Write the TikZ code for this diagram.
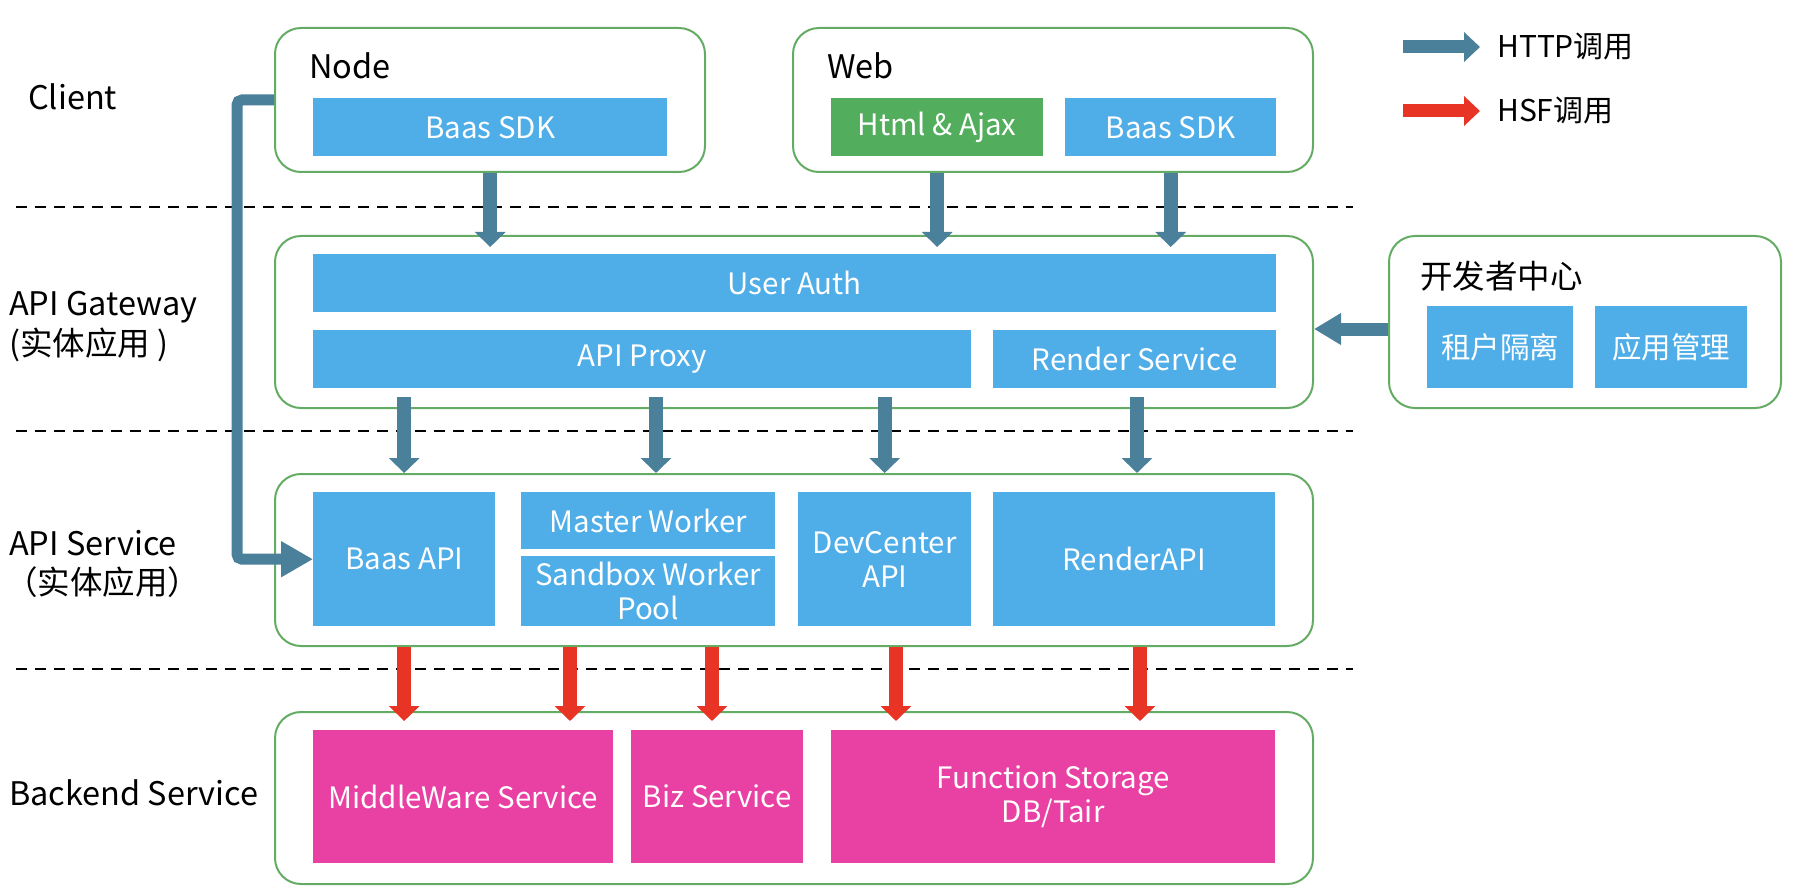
\documentclass[tikz,border=0pt]{standalone}
\usepackage{fontspec}
\setmainfont{Noto Sans CJK SC}
\usetikzlibrary{arrows.meta,calc}
\definecolor{boxblue}{RGB}{79,173,232}
\definecolor{htmlgreen}{RGB}{82,174,92}
\definecolor{biz}{RGB}{233,64,163}
\definecolor{arrowblue}{RGB}{74,128,153}
\definecolor{hsfred}{RGB}{232,52,36}
\definecolor{frame}{RGB}{100,172,100}
\newcommand{\bx}[7]{\node[#2, minimum width={(#5-#3)*1pt}, minimum height={(#6-#4)*1pt}, anchor=north west, inner sep=0pt] (#1) at (#3,#4) {#7};}
\begin{document}
\begin{tikzpicture}[x=1pt,y=-1pt,
  txt/.style={font=\fontsize{29.5}{34}\selectfont, align=center},
  lbl/.style={font=\fontsize{32.5}{38}\selectfont, anchor=west, inner sep=0pt, align=left},
  legl/.style={font=\fontsize{30}{36}\selectfont, anchor=west, inner sep=0pt},
  grp/.style={draw=frame, line width=2pt, rounded corners=26pt, fill=white},
  bluebox/.style={txt, fill=boxblue, text=white},
  greenbox/.style={txt, fill=htmlgreen, text=white},
  pinkbox/.style={txt, fill=biz, text=white},
  httparrow/.style={draw=arrowblue, line width=14pt, -{Triangle[width=30pt,length=15pt]}},
  hsfarrow/.style={draw=hsfred, line width=14pt, -{Triangle[width=30pt,length=15pt]}},
  sepline/.style={draw=black, line width=1.8pt, dash pattern=on 11pt off 8pt},
]
\useasboundingbox (0,0) rectangle (1794,896);
% separators
\draw[sepline] (16,207) -- (1353,207);
\draw[sepline] (16,431) -- (1353,431);
\draw[sepline] (16,669) -- (1353,669);
% group boxes
\bx{nodebox}{grp}{274}{27}{704}{171}{}
\bx{webbox}{grp}{792}{27}{1312}{171}{}
\bx{gwbox}{grp}{274}{235}{1312}{407}{}
\bx{devbox}{grp}{1388}{235}{1780}{407}{}
\bx{svcbox}{grp}{274}{473}{1312}{645}{}
\bx{bkbox}{grp}{274}{711}{1312}{883}{}
% inner boxes
\bx{bsdk1}{bluebox}{313}{98}{667}{156}{Baas SDK}
\bx{html}{greenbox}{831}{98}{1043}{156}{Html \& Ajax}
\bx{bsdk2}{bluebox}{1065}{98}{1276}{156}{Baas SDK}
\bx{auth}{bluebox}{313}{254}{1276}{312}{User Auth}
\bx{proxy}{bluebox}{313}{330}{971}{388}{API Proxy}
\bx{render}{bluebox}{993}{330}{1276}{388}{Render Service}
\bx{tenant}{bluebox}{1427}{306}{1573}{388}{租户隔离}
\bx{appmgmt}{bluebox}{1595}{306}{1747}{388}{应用管理}
\bx{baasapi}{bluebox}{313}{492}{495}{626}{Baas API}
\bx{master}{bluebox}{521}{492}{775}{549}{Master Worker}
\bx{sandbox}{bluebox}{521}{556}{775}{626}{Sandbox Worker\\Pool}
\bx{devapi}{bluebox}{798}{492}{971}{626}{DevCenter\\API}
\bx{renderapi}{bluebox}{993}{492}{1275}{626}{RenderAPI}
\bx{mw}{pinkbox}{313}{730}{613}{863}{MiddleWare Service}
\bx{bizsvc}{pinkbox}{631}{730}{803}{863}{Biz Service}
\bx{fs}{pinkbox}{831}{730}{1275}{863}{Function Storage\\DB/Tair}
% group titles
\node[lbl] (nodet) at (309,66) {Node};
\node[lbl] (webt) at (827,66) {Web};
\node[lbl] (devt) at (1420,276) {开发者中心};
% layer labels
\node[lbl] (l1) at (28,97) {Client};
\node[lbl] (l2) at (9,307) {API Gateway};
\node[lbl] (l2b) at (9,345) {(实体应用 )};
\node[lbl] (l3) at (9,543) {API Service};
\node[lbl] (l3b) at (5,582) {（实体应用）};
\node[lbl] (l4) at (9,793) {Backend Service};
% legend
\node[legl] (httpl) at (1497,47) {HTTP调用};
\node[legl] (hsfl) at (1497,111) {HSF调用};
\coordinate (https) at (1403,47);
\coordinate (hsfs) at (1403,111);
\draw[draw=arrowblue, line width=13pt, -{Triangle[width=29pt,length=16pt]}] (https) -- ([xshift=-17pt]httpl.west);
\draw[draw=hsfred, line width=13pt, -{Triangle[width=29pt,length=16pt]}] (hsfs) -- ([xshift=-17pt]hsfl.west);
% client -> gateway
\draw[httparrow] (bsdk1.center |- nodebox.south) -- ([yshift=-12pt]bsdk1.center |- gwbox.north);
\draw[httparrow] (html.center |- webbox.south) -- ([yshift=-12pt]html.center |- gwbox.north);
\draw[httparrow] (bsdk2.center |- webbox.south) -- ([yshift=-12pt]bsdk2.center |- gwbox.north);
% gateway -> service
\coordinate (xg2) at (656,0);
\coordinate (xg4) at (1137,0);
\draw[httparrow] ([yshift=12pt]baasapi.center |- gwbox.south) -- (baasapi.center |- svcbox.north);
\draw[httparrow] ([yshift=12pt]xg2 |- gwbox.south) -- (xg2 |- svcbox.north);
\draw[httparrow] ([yshift=12pt]devapi.center |- gwbox.south) -- (devapi.center |- svcbox.north);
\draw[httparrow] ([yshift=12pt]xg4 |- gwbox.south) -- (xg4 |- svcbox.north);
% dev center -> gateway
\draw[draw=arrowblue, line width=13pt, -{Triangle[width=30pt,length=27pt]}] ([yshift=-7pt]devbox.west) -- ([yshift=-7pt]gwbox.east |- devbox.west);
% node -> baas api
\draw[draw=arrowblue, line width=11pt, rounded corners=5pt, -{Triangle[width=34pt,length=32pt]}] (nodebox.west) -- ++(-37,0) |- (baasapi.west);
% service -> backend
\coordinate (xr2) at (570,0);
\coordinate (xr3) at (712,0);
\coordinate (xr4) at (896,0);
\coordinate (xr5) at (1140,0);
\draw[hsfarrow] (baasapi.center |- svcbox.south) -- ([yshift=-10pt]baasapi.center |- bkbox.north);
\draw[hsfarrow] (xr2 |- svcbox.south) -- ([yshift=-10pt]xr2 |- bkbox.north);
\draw[hsfarrow] (xr3 |- svcbox.south) -- ([yshift=-10pt]xr3 |- bkbox.north);
\draw[hsfarrow] (xr4 |- svcbox.south) -- ([yshift=-10pt]xr4 |- bkbox.north);
\draw[hsfarrow] (xr5 |- svcbox.south) -- ([yshift=-10pt]xr5 |- bkbox.north);
\end{tikzpicture}
\end{document}
